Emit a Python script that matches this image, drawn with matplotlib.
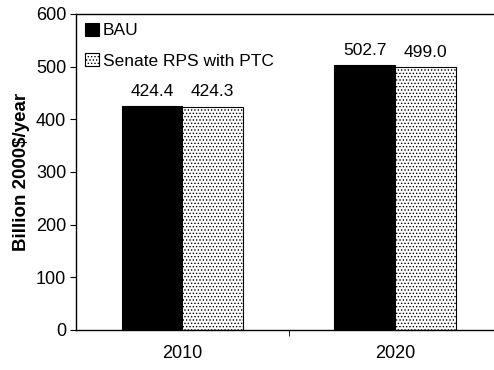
import matplotlib
matplotlib.use("Agg")
import matplotlib.pyplot as plt
import numpy as np

years = ["2010", "2020"]
bau = [424.4, 502.7]
rps = [424.3, 499.0]
series_names = ["BAU", "Senate RPS with PTC"]

plt.rcParams['font.family'] = ['Liberation Sans', 'DejaVu Sans']
plt.rcParams['hatch.linewidth'] = 0.6

fig = plt.figure(figsize=(4.94, 3.70), dpi=100)
ax = fig.add_axes([76/494, 1-330/370, 1-76/494, (330-14)/370])

x = np.arange(len(years))
w = 0.285
b1 = ax.bar(x - w/2, bau, w, color='black', edgecolor='black', linewidth=0.8, label=series_names[0])
b2 = ax.bar(x + w/2, rps, w, color='white', edgecolor='black', linewidth=0.8, hatch='.....', label=series_names[1])

for rect, v in zip(list(b1) + list(b2), bau + rps):
    ax.text(rect.get_x() + rect.get_width()/2, v + 14, f"{v:.1f}", ha='center', va='bottom', fontsize=12.5)

ax.set_xlim(-0.5, 1.465)
ax.set_ylim(0, 600)
ax.set_yticks(range(0, 601, 100))
ax.set_xticks(x)
ax.set_xticklabels(years, fontsize=13)
ax.set_xticks([0.5], minor=True)
ax.tick_params(axis='x', which='major', length=0, pad=11)
ax.tick_params(axis='x', which='minor', length=4, direction='out')
ax.tick_params(axis='y', labelsize=13, length=4, direction='out', pad=3)
ax.set_ylabel("Billion 2000$/year", fontsize=13.5, fontweight='bold', labelpad=4)
ax.spines['right'].set_visible(False)
for s in ['left', 'bottom', 'top']:
    ax.spines[s].set_linewidth(1.0)

ax.legend(loc='upper left', frameon=False, fontsize=12.5, handlelength=0.8, handleheight=0.8,
          handletextpad=0.25, borderaxespad=0.2, labelspacing=0.85, borderpad=0.3)

fig.savefig("out.png", dpi=100)
